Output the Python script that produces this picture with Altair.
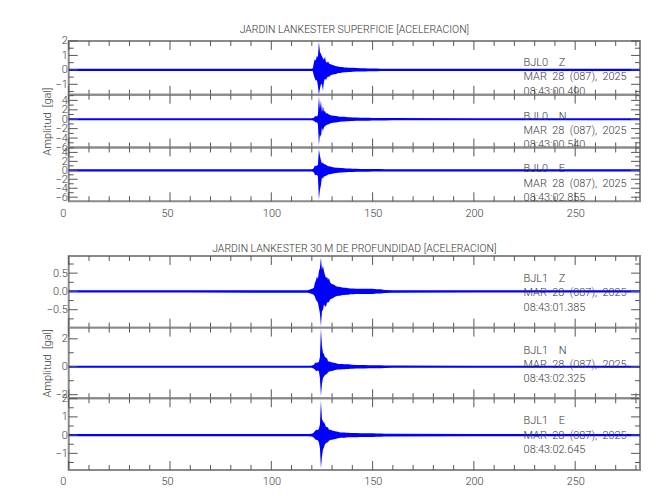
import altair as alt
import pandas as pd

FONT = "Roboto"
BLUE = "#0000ff"
FRAME = "#8a8a8a"
TICK = "#555555"
TEXTC = "#3a3a3a"
FW = 300

# ---- time grid (s) shared by all traces ----
T = [0, 60, 118, 119, 119.5, 120, 120.5, 121, 121.5, 122,
     122.5, 123, 123.5, 124, 124.5, 125, 125.5, 126, 126.5, 127,
     127.5, 128, 128.5, 129, 129.5, 130, 131, 132, 133, 134,
     135, 136, 137, 138, 139, 140, 142, 144, 146, 148,
     150, 152, 154, 156, 160, 200, 240, 282]

# ---- envelopes (max / min), gal ----
BJL0_Z_HI = [0.07, 0.07, 0.07, 0.07, 0.07, 0.08, 0.12, 0.5, 0.75, 0.65,
             1.0, 0.85, 1.95, 1.25, 1.1, 0.95, 0.8, 0.7, 0.9, 0.55,
             0.5, 0.6, 0.45, 0.4, 0.38, 0.35, 0.3, 0.25, 0.24, 0.2,
             0.2, 0.17, 0.16, 0.15, 0.14, 0.14, 0.13, 0.12, 0.11, 0.1,
             0.09, 0.09, 0.08, 0.08, 0.08, 0.07, 0.07, 0.07]
BJL0_Z_LO = [-0.07, -0.07, -0.07, -0.07, -0.07, -0.08, -0.1, -0.4, -0.6, -0.75,
             -0.7, -1.1, -1.72, -1.3, -1.0, -1.0, -1.45, -0.8, -0.6, -0.7,
             -0.55, -0.45, -0.5, -0.4, -0.35, -0.33, -0.3, -0.28, -0.22, -0.22,
             -0.18, -0.17, -0.16, -0.14, -0.14, -0.13, -0.12, -0.12, -0.11, -0.1,
             -0.09, -0.09, -0.08, -0.08, -0.08, -0.07, -0.07, -0.07]

BJL0_N_HI = [0.22, 0.22, 0.22, 0.22, 0.22, 0.22, 0.25, 0.3, 0.6, 0.7,
             0.6, 0.9, 4.9, 2.2, 3.9, 1.5, 2.8, 1.6, 1.8, 1.2,
             1.3, 1.1, 1.0, 0.9, 0.8, 0.8, 0.75, 0.7, 0.6, 0.55,
             0.5, 0.5, 0.45, 0.4, 0.4, 0.38, 0.35, 0.33, 0.3, 0.3,
             0.28, 0.27, 0.26, 0.25, 0.24, 0.23, 0.22, 0.22]
BJL0_N_LO = [-0.22, -0.22, -0.22, -0.22, -0.22, -0.22, -0.25, -0.35, -0.55, -0.7,
             -0.65, -1.0, -5.6, -3.2, -3.8, -1.8, -2.5, -1.7, -1.5, -1.3,
             -1.2, -1.1, -1.0, -0.9, -0.8, -0.8, -0.7, -0.7, -0.6, -0.55,
             -0.5, -0.48, -0.45, -0.42, -0.4, -0.38, -0.35, -0.33, -0.3, -0.3,
             -0.28, -0.27, -0.26, -0.25, -0.24, -0.23, -0.22, -0.22]

BJL0_E_HI = [0.25, 0.25, 0.25, 0.25, 0.25, 0.25, 0.3, 0.5, 1.1, 0.9,
             1.1, 1.2, 4.7, 3.3, 2.2, 1.5, 1.8, 1.3, 1.4, 1.2,
             1.1, 0.9, 0.9, 0.85, 0.8, 0.75, 0.65, 0.6, 0.55, 0.5,
             0.5, 0.45, 0.42, 0.4, 0.38, 0.36, 0.34, 0.32, 0.3, 0.3,
             0.28, 0.28, 0.27, 0.26, 0.26, 0.25, 0.25, 0.25]
BJL0_E_LO = [-0.25, -0.25, -0.25, -0.25, -0.25, -0.25, -0.3, -0.5, -1.0, -1.1,
             -1.0, -1.4, -6.5, -4.4, -3.3, -1.6, -1.8, -1.4, -1.3, -1.2,
             -1.1, -0.95, -0.9, -0.85, -0.8, -0.75, -0.65, -0.6, -0.55, -0.5,
             -0.5, -0.45, -0.42, -0.4, -0.38, -0.36, -0.34, -0.32, -0.3, -0.3,
             -0.28, -0.28, -0.27, -0.26, -0.26, -0.25, -0.25, -0.25]

BJL1_Z_HI = [0.03, 0.03, 0.035, 0.05, 0.06, 0.07, 0.08, 0.1, 0.23, 0.3,
             0.41, 0.35, 0.55, 0.64, 0.93, 0.6, 0.7, 0.55, 0.45, 0.37,
             0.4, 0.32, 0.37, 0.25, 0.22, 0.2, 0.18, 0.14, 0.13, 0.12,
             0.11, 0.1, 0.1, 0.09, 0.08, 0.08, 0.07, 0.07, 0.07, 0.07,
             0.07, 0.06, 0.06, 0.04, 0.035, 0.03, 0.03, 0.03]
BJL1_Z_LO = [-0.03, -0.03, -0.035, -0.05, -0.06, -0.07, -0.08, -0.1, -0.14, -0.22,
             -0.27, -0.3, -0.45, -0.6, -0.95, -0.54, -0.5, -0.36, -0.4, -0.42,
             -0.3, -0.3, -0.28, -0.22, -0.2, -0.2, -0.16, -0.13, -0.12, -0.12,
             -0.1, -0.1, -0.09, -0.09, -0.08, -0.08, -0.07, -0.07, -0.07, -0.07,
             -0.07, -0.06, -0.06, -0.04, -0.035, -0.03, -0.03, -0.03]

BJL1_N_HI = [0.07, 0.07, 0.07, 0.07, 0.07, 0.08, 0.1, 0.15, 0.25, 0.3,
             0.28, 0.3, 0.35, 0.7, 2.75, 1.5, 1.0, 0.9, 0.7, 0.65,
             0.6, 0.4, 0.38, 0.35, 0.33, 0.3, 0.28, 0.25, 0.2, 0.2,
             0.2, 0.18, 0.18, 0.17, 0.16, 0.15, 0.13, 0.12, 0.12, 0.11,
             0.11, 0.1, 0.1, 0.09, 0.08, 0.07, 0.07, 0.07]
BJL1_N_LO = [-0.07, -0.07, -0.07, -0.07, -0.07, -0.08, -0.1, -0.15, -0.2, -0.3,
             -0.3, -0.25, -0.35, -0.8, -2.1, -1.23, -0.8, -0.7, -0.6, -0.55,
             -0.5, -0.4, -0.35, -0.33, -0.3, -0.3, -0.26, -0.22, -0.2, -0.2,
             -0.18, -0.18, -0.17, -0.16, -0.15, -0.15, -0.13, -0.12, -0.12, -0.11,
             -0.11, -0.1, -0.1, -0.09, -0.08, -0.07, -0.07, -0.07]

BJL1_E_HI = [0.06, 0.06, 0.06, 0.06, 0.07, 0.08, 0.1, 0.15, 0.22, 0.27,
             0.3, 0.28, 0.35, 0.6, 1.9, 0.9, 0.75, 0.7, 0.6, 0.45,
             0.45, 0.4, 0.3, 0.3, 0.28, 0.25, 0.22, 0.2, 0.18, 0.15,
             0.15, 0.14, 0.13, 0.13, 0.12, 0.12, 0.11, 0.1, 0.1, 0.1,
             0.1, 0.09, 0.09, 0.08, 0.07, 0.06, 0.06, 0.06]
BJL1_E_LO = [-0.06, -0.06, -0.06, -0.06, -0.07, -0.08, -0.1, -0.15, -0.2, -0.27,
             -0.25, -0.3, -0.4, -0.7, -1.82, -1.18, -0.8, -0.67, -0.5, -0.45,
             -0.4, -0.38, -0.3, -0.28, -0.25, -0.25, -0.22, -0.2, -0.17, -0.15,
             -0.15, -0.14, -0.13, -0.12, -0.12, -0.12, -0.11, -0.1, -0.1, -0.1,
             -0.1, -0.09, -0.09, -0.08, -0.07, -0.06, -0.06, -0.06]

# ---- axes ----
X_DOMAIN = [0, 282]
X_LABELS = [0, 50, 100, 150, 200, 250]
X_MINOR = [10, 20, 30, 40, 60, 70, 80, 90, 110, 120, 130, 140, 160, 170,
           180, 190, 210, 220, 230, 240, 260, 270, 280]

TITLES = ["JARDIN LANKESTER SUPERFICIE [ACELERACION]",
          "JARDIN LANKESTER 30 M DE PROFUNDIDAD [ACELERACION]"]
Y_TITLE = "Amplitud\u00a0\u00a0[gal]"
DATE = "MAR\u00a0\u00a028\u00a0\u00a0(087),\u00a0\u00a02025"

PANELS = [
    dict(hi=BJL0_Z_HI, lo=BJL0_Z_LO, dom=[-1.72, 2.0], maj=[-1, 0, 1, 2],
         mnr=[-1.5, -0.5, 0.5, 1.5], fmt="d", h=54, sta="BJL0", comp="Z", time="08:43:00.490"),
    dict(hi=BJL0_N_HI, lo=BJL0_N_LO, dom=[-6.0, 5.2], maj=[-6, -4, -2, 0, 2, 4],
         mnr=[-5, -3, -1, 1, 3, 5], fmt="d", h=53, sta="BJL0", comp="N", time="08:43:00.540"),
    dict(hi=BJL0_E_HI, lo=BJL0_E_LO, dom=[-6.9, 5.1], maj=[-6, -4, -2, 0, 2, 4],
         mnr=[-5, -3, -1, 1, 3, 5], fmt="d", h=54, sta="BJL0", comp="E", time="08:43:02.855"),
    dict(hi=BJL1_Z_HI, lo=BJL1_Z_LO, dom=[-0.99, 0.97], maj=[-0.5, 0.0, 0.5],
         mnr=[-0.75, -0.25, 0.25, 0.75], fmt=".1f", h=72, sta="BJL1", comp="Z", time="08:43:01.385"),
    dict(hi=BJL1_N_HI, lo=BJL1_N_LO, dom=[-2.26, 2.8], maj=[-2, 0, 2],
         mnr=[-1, 1], fmt="d", h=71, sta="BJL1", comp="N", time="08:43:02.325"),
    dict(hi=BJL1_E_HI, lo=BJL1_E_LO, dom=[-1.91, 2.02], maj=[-1, 0, 1, 2],
         mnr=[-1.5, -0.5, 0.5, 1.5], fmt="d", h=72, sta="BJL1", comp="E", time="08:43:02.645"),
]

W = 574
MAJ_LEN = 9
MIN_LEN = 5
FS = 11


def make_panel(p, show_x, title=None, ytitle=None, text_y=25.0, title_offset=0):
    h = p["h"]
    xs = alt.Scale(domain=X_DOMAIN, nice=False, zero=False)
    ys = alt.Scale(domain=p["dom"], nice=False, zero=False)
    if show_x:
        xaxis = alt.Axis(values=X_LABELS, labelAlign="left", labelOffset=-9, labelPadding=6,
                         ticks=False, domain=False, grid=False, title=None,
                         labelFont=FONT, labelFontSize=FS, labelFontWeight=FW, labelColor=TEXTC,
                         labelFlush=False, labelOverlap=False)
    else:
        xaxis = None
    ykw = dict(values=p["maj"], format=p["fmt"], ticks=False, domain=False, grid=False,
               labelPadding=1.5, labelFont=FONT, labelFontSize=FS, labelFontWeight=FW,
               labelColor=TEXTC, labelOverlap=False, minExtent=55, maxExtent=55)
    if ytitle:
        ykw.update(title=ytitle, titleFont=FONT, titleFontSize=FS, titleFontWeight=FW,
                   titleColor=TEXTC, titleX=-21, titleBaseline="middle")
    else:
        ykw.update(title=None)
    yaxis = alt.Axis(**ykw)

    df = pd.DataFrame({"t": T, "hi": p["hi"], "lo": p["lo"]})
    area = alt.Chart(df).mark_area(color=BLUE, clip=True, opacity=1).encode(
        x=alt.X("t:Q", scale=xs, axis=xaxis),
        y=alt.Y("hi:Q", scale=ys, axis=yaxis),
        y2="lo:Q",
    )

    layers = [area]
    xmaj = pd.DataFrame({"v": X_LABELS})
    xmin = pd.DataFrame({"v": X_MINOR})
    for d, L in ((xmaj, MAJ_LEN), (xmin, MIN_LEN)):
        for y0, y1 in ((0, L), (h, h - L)):
            layers.append(alt.Chart(d).mark_rule(color=TICK, strokeWidth=1).encode(
                x=alt.X("v:Q", scale=xs, axis=xaxis), y=alt.value(y0), y2=alt.value(y1)))
    ymaj = pd.DataFrame({"v": p["maj"]})
    ymin = pd.DataFrame({"v": p["mnr"]})
    for d, L in ((ymaj, MAJ_LEN), (ymin, MIN_LEN)):
        for x0, x1 in ((0, L), (W, W - L)):
            layers.append(alt.Chart(d).mark_rule(color=TICK, strokeWidth=1).encode(
                y=alt.Y("v:Q", scale=ys, axis=yaxis), x=alt.value(x0), x2=alt.value(x1)))

    lines = [p["sta"] + "\u00a0\u00a0\u00a0\u00a0" + p["comp"], DATE, p["time"]]
    txt = alt.Chart(pd.DataFrame({"a": [0]})).mark_text(
        text=lines, font=FONT, fontSize=FS, fontWeight=FW, color=TEXTC, align="left",
        baseline="alphabetic", lineHeight=14.5,
    ).encode(x=alt.value(457), y=alt.value(text_y))
    layers.append(txt)

    props = dict(width=W, height=h)
    if title:
        props["title"] = alt.TitleParams(text=title, anchor="middle", frame="group", font=FONT,
                                         fontSize=10.5, fontWeight=FW, color="#333333",
                                         offset=title_offset)
    return alt.layer(*layers).properties(**props)


spacer = alt.Chart(pd.DataFrame({"a": [0]})).mark_point(opacity=0).encode(
    x=alt.value(0), y=alt.value(0)
).properties(width=W, height=55, view=alt.ViewBackground(stroke=None))

charts = [
    make_panel(PANELS[0], False, title=TITLES[0]),
    make_panel(PANELS[1], False, ytitle=Y_TITLE),
    make_panel(PANELS[2], True),
    spacer,
    make_panel(PANELS[3], False, title=TITLES[1], text_y=26.0, title_offset=1),
    make_panel(PANELS[4], False, ytitle=Y_TITLE, text_y=26.0),
    make_panel(PANELS[5], True, text_y=26.0),
]

chart = alt.vconcat(*charts, spacing=0, bounds="flush").properties(
    padding={"left": 5, "top": 14, "right": 0, "bottom": 0}
).configure_view(stroke=FRAME, strokeWidth=2)

chart.save("out.html", embed_options={"renderer": "svg", "actions": False})
